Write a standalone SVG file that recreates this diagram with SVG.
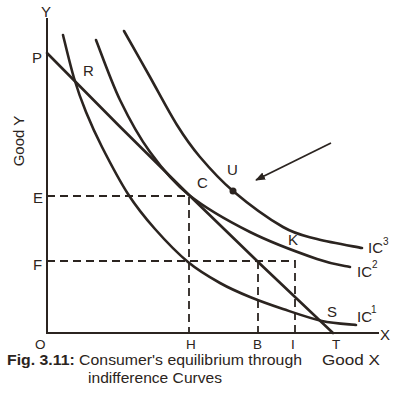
<svg xmlns="http://www.w3.org/2000/svg" width="403" height="395" viewBox="0 0 403 395">
<defs>
<style>
.ax{stroke:#2b2420;stroke-width:2;fill:none}
.cv{stroke:#2b2420;stroke-width:2.6;fill:none;stroke-linecap:round}
.ds{stroke:#2b2420;stroke-width:1.8;fill:none;stroke-dasharray:8 5}
.t{font-family:"Liberation Sans",Arial,sans-serif;font-size:15px;fill:#2b2420}
.sm{font-size:13.5px}
.sup{font-family:"Liberation Sans",Arial,sans-serif;font-size:10px;fill:#2b2420}
</style>
<marker id="ah" viewBox="0 0 10 10" refX="9" refY="5" markerWidth="10" markerHeight="10" markerUnits="userSpaceOnUse" orient="auto">
<path d="M0,1 L10,5 L0,9 Z" fill="#2b2420"/>
</marker>
</defs>
<rect width="403" height="395" fill="#ffffff"/>
<g id="axes">
<path class="ax" d="M47,18 V333 H379"/>
<text class="t" x="46" y="17" text-anchor="middle">Y</text>
<text class="t" x="380" y="340" font-size="16">X</text>
<text class="t sm" x="35" y="349">O</text>
<text class="t" x="20" y="141" font-size="16" text-anchor="middle" transform="rotate(-90 20 141)" dominant-baseline="middle">Good Y</text>
<text class="t" x="322" y="365" font-size="16" textLength="58" lengthAdjust="spacingAndGlyphs">Good X</text>
</g>
<g id="connectors">
<path class="ds" d="M47,196 H189 V333"/>
<path class="ds" d="M47,261 H295 V333"/>
<path class="ds" d="M258,261 V333"/>
<path class="cv" d="M47,53 Q190,199 333,333"/>
<path stroke="#2b2420" stroke-width="1.8" fill="none" d="M331,143 L256,180" marker-end="url(#ah)"/>
</g>
<g id="IC1">
<path class="cv" d="M63,35 C64.8,42.2 70.2,65.2 74,78 C77.8,90.8 81.3,100.5 86,112 C90.7,123.5 95,133.3 102,147 C109,160.7 119.2,180.3 128,194 C136.8,207.7 145,217.7 155,229 C165,240.3 177.2,253 188,262 C198.8,271 209.7,277.2 220,283 C230.3,288.8 239.5,292.7 250,297 C260.5,301.3 271,305 283,309 C295,313 309.8,318.3 322,321 C334.2,323.7 350.3,324.3 356,325"/>
<text class="t" x="357" y="322">IC</text><text class="sup" x="371" y="313">1</text>
</g>
<g id="IC2">
<path class="cv" d="M96,40 C100,50 111,81.3 120,100 C129,118.7 138.5,136.2 150,152 C161.5,167.8 172.3,181.7 189,195 C205.7,208.3 228.7,221.3 250,232 C271.3,242.7 300.3,253.2 317,259 C333.7,264.8 344.5,265.7 350,267"/>
<text class="t" x="357" y="277">IC</text><text class="sup" x="372" y="268">2</text>
</g>
<g id="IC3">
<path class="cv" d="M124,31 C128.3,38.7 141.2,61.3 150,77 C158.8,92.7 168.7,111.7 177,125 C185.3,138.3 190.7,146 200,157 C209.3,168 219.2,179.3 233,191 C246.8,202.7 269,219 283,227 C297,235 303.8,235.5 317,239 C330.2,242.5 354.5,246.5 362,248"/>
<text class="t" x="368" y="253">IC</text><text class="sup" x="383" y="245">3</text>
</g>
<g id="points">
<circle cx="233" cy="191" r="3.5" fill="#2b2420"/>
<text class="t" x="32" y="63">P</text>
<text class="t" x="83" y="76">R</text>
<text class="t" x="33" y="203">E</text>
<text class="t" x="33" y="270">F</text>
<text class="t" x="197" y="188">C</text>
<text class="t" x="227" y="175">U</text>
<text class="t" x="288" y="245">K</text>
<text class="t" x="327" y="317">S</text>
<text class="t sm" x="186" y="349">H</text>
<text class="t sm" x="253" y="349">B</text>
<text class="t sm" x="291" y="349">I</text>
<text class="t sm" x="332" y="349">T</text>
</g>
<g id="caption">
<text class="t" x="7" y="365" font-size="14.5" textLength="295" lengthAdjust="spacingAndGlyphs"><tspan font-weight="bold">Fig. 3.11:</tspan> Consumer's equilibrium through</text>
<text class="t" x="88" y="383" font-size="14.5" textLength="134" lengthAdjust="spacingAndGlyphs">indifference Curves</text>
</g>
</svg>
